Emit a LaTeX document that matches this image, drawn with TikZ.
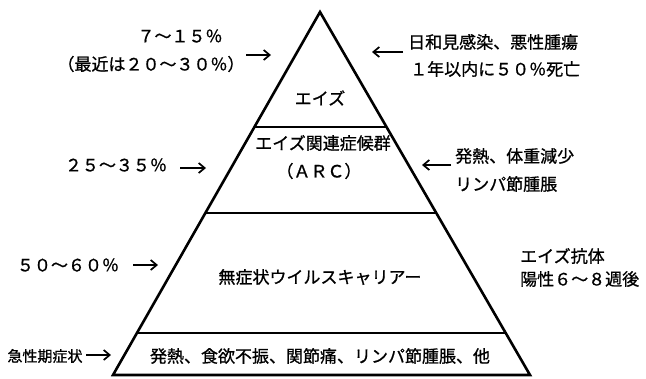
\documentclass[tikz,border=0pt]{standalone}
\usepackage{fontspec}
\setmainfont{Noto Sans CJK JP}
\newfontfamily\jpbold{Noto Sans CJK JP}[FakeBold=0.9]
\usetikzlibrary{arrows.meta,calc}
\tikzset{
  tri/.style={line width=2.6pt,line join=miter},
  band/.style={line width=2.6pt},
  arr/.style={line width=1.7pt,-{Straight Barb[length=6pt,width=10pt,line width=1.7pt]}},
  lbl/.style={inner sep=0pt,font=\jpbold\fontsize{17}{20}\selectfont},
  small/.style={inner sep=0pt,font=\jpbold\fontsize{15}{18}\selectfont},
}
\begin{document}
\begin{tikzpicture}[x=1pt,y=-1pt]
\useasboundingbox[fill=white] (0,0) rectangle (646,378);
% pyramid
\coordinate (A) at (320,12);
\coordinate (BL) at (113,375);
\coordinate (BR) at (530,375);
\draw[tri] (A) -- (BL) -- (BR) -- cycle;
\coordinate (L1) at ($(A)!0.3168!(BL)$);
\coordinate (R1) at ($(A)!0.3168!(BR)$);
\coordinate (L2) at ($(A)!0.5537!(BL)$);
\coordinate (R2) at ($(A)!0.5537!(BR)$);
\coordinate (L3) at ($(A)!0.8843!(BL)$);
\coordinate (R3) at ($(A)!0.8843!(BR)$);
\draw[band] (L1) -- (R1);
\draw[band] (L2) -- (R2);
\draw[band] (L3) -- (R3);
% inside texts
\node[lbl] (aids) at (320,98) {エイズ};
\node[lbl] (arc1) at (323,143) {エイズ関連症候群};
\node[lbl] (arc2) at (319,171) {（ＡＲＣ）};
\node[lbl] (carrier) at (320,277) {無症状ウイルスキャリアー};
\node[lbl] (acute) at (320,356) {発熱、食欲不振、関節痛、リンパ節腫脹、他};
% left labels
\node[lbl] (p1a) at (180,36) {７～１５％};
\node[lbl] (p1b) at (151,64) {（最近は２０～３０％）};
\node[lbl] (p2) at (116,165) {２５～３５％};
\node[lbl] (p3) at (68,265) {５０～６０％};
\node[small] (p4) at (45,356) {急性期症状};
% right labels
\node[lbl,anchor=west] (r1a) at (408,42) {日和見感染、悪性腫瘍};
\node[lbl,anchor=west] (r1b) at (410,69) {１年以内に５０％死亡};
\node[lbl,anchor=west] (r2a) at (455,156) {発熱、体重減少};
\node[lbl,anchor=west] (r2b) at (455,184) {リンパ節腫脹};
\node[lbl,anchor=west] (r3a) at (520,256) {エイズ抗体};
\node[lbl,anchor=west] (r3b) at (520,279) {陽性６～８週後};
% arrows
\coordinate (a1s) at (246,55); \coordinate (a1e) at (271,55);
\coordinate (a2s) at (403,52); \coordinate (a2e) at (372,52);
\coordinate (a3s) at (180,168); \coordinate (a3e) at (206,168);
\coordinate (a4s) at (451,165); \coordinate (a4e) at (422,165);
\coordinate (a5s) at (133,265); \coordinate (a5e) at (158,265);
\coordinate (a6s) at (86,355); \coordinate (a6e) at (111,355);
\draw[arr] (a1s) -- (a1e);
\draw[arr] (a2s) -- (a2e);
\draw[arr] (a3s) -- (a3e);
\draw[arr] (a4s) -- (a4e);
\draw[arr] (a5s) -- (a5e);
\draw[arr] (a6s) -- (a6e);
\end{tikzpicture}
\end{document}
